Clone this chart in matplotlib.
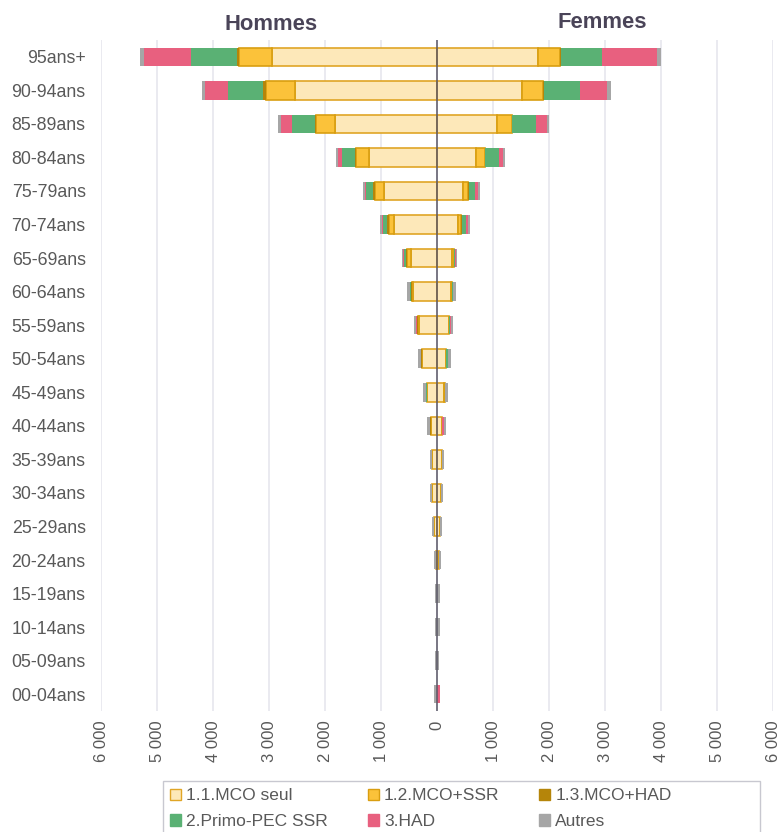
import numpy as np
import matplotlib
matplotlib.use("Agg")
import matplotlib.pyplot as plt
from matplotlib.patches import Patch, Rectangle
from matplotlib.ticker import FuncFormatter

plt.rcParams['font.family'] = ['Liberation Sans', 'DejaVu Sans']

# age groups, top to bottom
ages = ["95ans+", "90-94ans", "85-89ans", "80-84ans", "75-79ans", "70-74ans",
        "65-69ans", "60-64ans", "55-59ans", "50-54ans", "45-49ans", "40-44ans",
        "35-39ans", "30-34ans", "25-29ans", "20-24ans", "15-19ans", "10-14ans",
        "05-09ans", "00-04ans"]

# Hommes
seul_h = [2950, 2535, 1815, 1215, 955, 765, 465, 420, 330, 265, 175, 105, 85, 85, 45, 25, 0, 0, 0, 0]
ssr_h = [585, 520, 350, 230, 160, 100, 65, 25, 15, 8, 5, 5, 0, 0, 0, 0, 0, 0, 0, 0]
mcohad_h = [40, 50, 20, 20, 20, 25, 30, 15, 15, 5, 3, 10, 0, 0, 0, 0, 0, 0, 0, 0]
primo_h = [820, 620, 410, 225, 125, 75, 32, 18, 5, 5, 18, 5, 0, 0, 0, 0, 0, 0, 0, 0]
had_h = [845, 425, 195, 70, 20, 10, 8, 5, 3, 3, 0, 0, 0, 0, 0, 0, 0, 0, 0, 0]
autres_h = [65, 40, 45, 45, 45, 40, 32, 48, 48, 48, 48, 48, 48, 36, 48, 36, 36, 36, 30, 60]

# Femmes
seul_f = [1795, 1510, 1075, 695, 470, 380, 265, 250, 215, 160, 130, 90, 89, 65, 48, 36, 0, 0, 0, 0]
ssr_f = [400, 380, 260, 160, 85, 45, 30, 20, 5, 5, 5, 0, 0, 0, 8, 0, 0, 0, 0, 0]
mcohad_f = [20, 20, 10, 10, 25, 18, 12, 5, 3, 3, 5, 0, 0, 0, 4, 0, 0, 0, 0, 0]
primo_f = [740, 635, 415, 240, 100, 75, 20, 12, 18, 24, 5, 0, 0, 0, 0, 0, 0, 0, 0, 0]
had_f = [975, 490, 205, 75, 50, 32, 5, 3, 3, 3, 3, 30, 0, 0, 0, 0, 0, 0, 0, 60]
autres_f = [65, 65, 38, 38, 45, 32, 32, 42, 42, 54, 42, 42, 36, 36, 36, 42, 48, 48, 36, 0]

labels = ["1.1.MCO seul", "1.2.MCO+SSR", "1.3.MCO+HAD", "2.Primo-PEC SSR", "3.HAD", "Autres"]
colors = ["#FDE8B9", "#FBC23A", "#B5850A", "#5AB174", "#E8607F", "#A6A6A6"]
edges = ["#E0A526", "#D99E10", "#B5850A", "#5AB174", "#E8607F", "#A6A6A6"]
lws = [1.2, 1.2, 0, 0, 0, 0]

txt = "#595959"

fig = plt.figure(figsize=(7.82, 8.32), dpi=100)
ax = fig.add_axes([101 / 782, 1 - 711 / 832, 672 / 782, 671 / 832])

y = np.arange(len(ages))
hommes = [seul_h, ssr_h, mcohad_h, primo_h, had_h, autres_h]
femmes = [seul_f, ssr_f, mcohad_f, primo_f, had_f, autres_f]

cum_h = np.zeros(len(ages))
cum_f = np.zeros(len(ages))
for k in range(6):
    vh = np.array(hommes[k], dtype=float)
    vf = np.array(femmes[k], dtype=float)
    ax.barh(y, -vh, left=-cum_h, height=0.55, color=colors[k],
            edgecolor=edges[k], linewidth=lws[k], zorder=3)
    ax.barh(y, vf, left=cum_f, height=0.55, color=colors[k],
            edgecolor=edges[k], linewidth=lws[k], zorder=3)
    cum_h += vh
    cum_f += vf

ax.axvline(0, color="#5A5766", lw=1.1, zorder=4)

ax.set_xlim(-6000, 6000)
ax.set_ylim(len(ages) - 0.5, -0.5)
ax.set_xticks(np.arange(-6000, 6001, 1000))
ax.xaxis.set_major_formatter(FuncFormatter(lambda v, p: f"{abs(int(v)):,}".replace(",", " ")))
ax.set_yticks(y)
ax.set_yticklabels(ages)
ax.tick_params(axis="x", length=0, pad=7, labelsize=12, labelcolor=txt, labelrotation=90)
ax.tick_params(axis="y", length=0, pad=11, labelsize=12.8, labelcolor=txt)
ax.grid(axis="x", color="#E4E4EC", lw=1.1, zorder=0)
for s in ax.spines.values():
    s.set_visible(False)

fig.text(271 / 782, 1 - 25 / 832, "Hommes", ha="center", va="center",
         fontsize=15.8, fontweight="bold", color="#4A4458")
fig.text(602 / 782, 1 - 22 / 832, "Femmes", ha="center", va="center",
         fontsize=15.8, fontweight="bold", color="#4A4458")

# legend box (wider than its content, as in the source)
fig.patches.append(Rectangle((163 / 782, 1 - 845 / 832), 597 / 782, 64 / 832,
                             transform=fig.transFigure, facecolor="white",
                             edgecolor="#C8C8D0", lw=1.0, zorder=0))

handles = [Patch(facecolor=colors[k], edgecolor=edges[k], linewidth=1.0) for k in range(6)]
order = [0, 3, 1, 4, 2, 5]
leg = fig.legend([handles[i] for i in order], [labels[i] for i in order],
                 loc="upper left", bbox_to_anchor=(163 / 782, 1 - 781 / 832),
                 ncol=3, fontsize=12.5, frameon=False,
                 handlelength=0.62, handleheight=0.62, handletextpad=0.3,
                 columnspacing=2.3, labelspacing=0.62, borderpad=0.42,
                 borderaxespad=0)
for t in leg.get_texts():
    t.set_color(txt)

fig.savefig("out.png", dpi=100)
